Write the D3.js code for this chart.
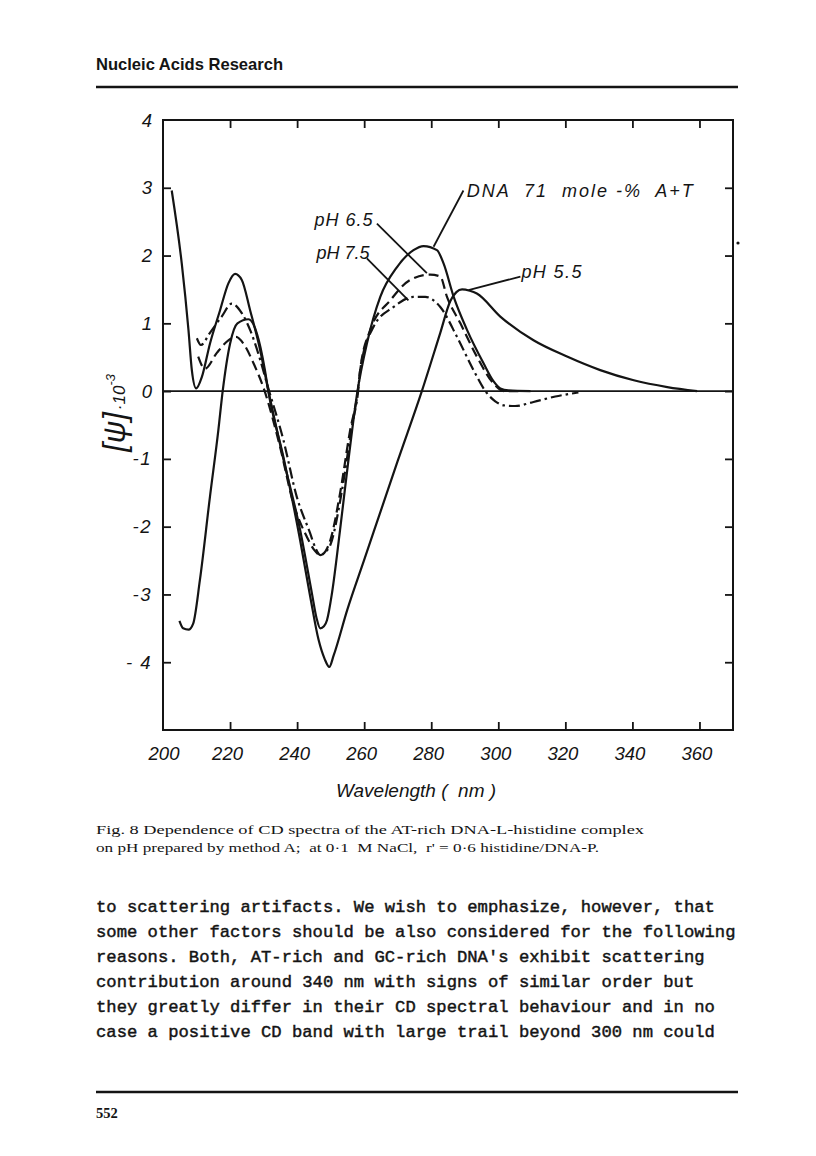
<!DOCTYPE html>
<html><head><meta charset="utf-8">
<script src="https://cdn.jsdelivr.net/npm/d3@7/dist/d3.min.js"></script>
<style>
html,body{margin:0;padding:0;background:#fff;}
svg{display:block;}
</style></head>
<body><svg id="c" width="816" height="1156"></svg>
<script>
// ---------- data ----------
const xTickValues = [200,220,240,260,280,300,320,340,360];
const yTickValues = [4,3,2,1,0,-1,-2,-3,-4];
const yTickLabels = ["4","3","2","1","0","-1","-2","-3","- 4"];

// DNA 71 mole-% A+T (native, solid)
const nativeNm  = [202.6,205.6,207.6,208.6,209.9,211.6,214.0,217.0,219.5,221.5,223.5,226.0,229.0,231.0,235.9,240.9,244.4,245.8,246.9,248.0,248.9,250.4,252.8,255.3,258.0,260.8,264.8,269.8,274.7,277.7,281.7,283.7,286.7,290.7,295.6,298.5,300.6,303.0,309.6];
const nativeVal = [2.96,1.88,0.90,0.31,0.04,0.21,0.70,1.19,1.59,1.73,1.64,1.19,0.60,0.11,-1.00,-2.05,-2.98,-3.35,-3.50,-3.47,-3.38,-2.98,-2.05,-1.02,0.00,0.70,1.39,1.83,2.08,2.14,2.08,1.88,1.39,0.90,0.41,0.15,0.04,0.01,0.00];
// pH 5.5 (solid)
const ph55Nm  = [204.9,206.0,207.6,209.0,211.0,214.0,216.5,217.8,220.0,222.2,225.5,228.0,230.4,231.4,235.9,240.9,243.9,246.4,248.2,249.6,250.9,255.0,260.0,265.0,270.0,277.2,282.7,285.7,287.5,289.2,291.5,293.6,300.6,310.5,320.5,330.4,340.4,350.4,359.3];
const ph55Val = [-3.39,-3.50,-3.52,-3.43,-2.79,-1.56,-0.58,0.00,0.70,1.00,1.06,0.85,0.31,0.00,-0.97,-2.20,-3.03,-3.67,-3.95,-4.07,-3.90,-3.22,-2.49,-1.76,-1.03,0.00,0.86,1.33,1.46,1.50,1.48,1.44,1.10,0.75,0.51,0.31,0.16,0.06,0.00];
// pH 6.5 (dashed)
const ph65Nm  = [210.5,212.5,216.0,219.5,221.8,224.0,227.0,229.9,234.9,238.9,242.9,245.2,246.9,248.5,249.9,252.8,255.8,258.1,258.8,261.8,267.8,273.7,279.7,282.7,284.7,288.7,293.6,298.6,301.6,306.0];
const ph65Val = [0.51,0.33,0.56,0.75,0.80,0.70,0.41,0.06,-0.82,-1.66,-2.15,-2.35,-2.42,-2.36,-2.20,-1.51,-0.58,0.00,0.31,0.90,1.34,1.64,1.72,1.69,1.39,1.00,0.51,0.11,0.00,0.00];
// pH 7.5 (dash-dot)
const ph75Nm  = [210.1,211.3,214.0,217.5,220.5,223.5,226.0,229.0,231.0,235.9,239.9,243.9,245.5,246.9,248.3,249.9,253.4,256.4,258.2,258.8,262.8,268.7,274.7,278.2,282.7,287.7,292.6,296.6,299.1,301.6,305.0,310.5,317.0,323.9];
const ph75Val = [0.78,0.68,0.86,1.10,1.29,1.15,0.90,0.46,0.11,-0.72,-1.56,-2.10,-2.32,-2.42,-2.38,-2.27,-1.46,-0.50,0.00,0.31,0.95,1.24,1.39,1.39,1.24,0.80,0.31,-0.03,-0.15,-0.21,-0.22,-0.16,-0.08,-0.02];

const seriesNames = ["DNA 71 mole-% A+T","pH 5.5","pH 6.5","pH 7.5"];
// annotation labels: text, anchor (nm, value), leader from/to (nm, value)
const labelTexts  = ["DNA  71  mole -%  A+T","pH 6.5","pH 7.5","pH 5.5"];
const labelNm     = [290.6,245.2,245.8,306.9];
const labelVal    = [2.87,2.44,1.95,1.67];
const leaderFrom  = [[289.6,2.96],[263.8,2.47],[260.8,1.96],[306.6,1.69]];
const leaderTo    = [[280.7,2.13],[278.7,1.74],[273.2,1.34],[291.1,1.49]];

const bodyLines = [
 "to scattering artifacts. We wish to emphasize, however, that",
 "some other factors should be also considered for the following",
 "reasons. Both, AT-rich and GC-rich DNA's exhibit scattering",
 "contribution around 340 nm with signs of similar order but",
 "they greatly differ in their CD spectral behaviour and in no",
 "case a positive CD band with large trail beyond 300 nm could"
];

// ---------- drawing ----------
const svg = d3.select("#c");
svg.append("rect").attr("width",816).attr("height",1156).attr("fill","#fff");
const ink = "#141414";
const L = 163, R = 733, T = 120, B = 730;
const x = d3.scaleLinear().domain([200,370]).range([L,R]);
const y = d3.scaleLinear().domain([-5,4]).range([B,T]);

// header
svg.append("text").attr("x",96).attr("y",70).attr("font-family","Liberation Sans, Arial, sans-serif")
  .attr("font-weight","bold").attr("font-size",17).attr("fill",ink)
  .attr("textLength",187).attr("lengthAdjust","spacingAndGlyphs").text("Nucleic Acids Research");
svg.append("line").attr("x1",96).attr("x2",738).attr("y1",87).attr("y2",87).attr("stroke",ink).attr("stroke-width",2.5);

const axFont = "Liberation Sans, Arial, sans-serif";
// axes (d3 axes with inward ticks)
const tk = 8;
const gB = svg.append("g").attr("transform",`translate(0,${B})`)
  .call(d3.axisBottom(x).tickValues(xTickValues.slice(1)).tickSize(-tk).tickFormat(""));
const gT = svg.append("g").attr("transform",`translate(0,${T})`)
  .call(d3.axisTop(x).tickValues(xTickValues.slice(1)).tickSize(-tk).tickFormat(""));
const gL = svg.append("g").attr("transform",`translate(${L},0)`)
  .call(d3.axisLeft(y).tickValues(yTickValues.slice(1)).tickSize(-tk).tickFormat(""));
const gR = svg.append("g").attr("transform",`translate(${R},0)`)
  .call(d3.axisRight(y).tickValues(yTickValues.slice(1)).tickSize(-tk).tickFormat(""));
[gB,gT,gL,gR].forEach(g=>{
  g.select(".domain").remove();
  g.selectAll(".tick line").attr("stroke",ink).attr("stroke-width",1.8);
});
// frame
svg.append("rect").attr("x",L).attr("y",T).attr("width",R-L).attr("height",B-T)
  .attr("fill","none").attr("stroke",ink).attr("stroke-width",2);
// zero line
svg.append("line").attr("x1",L).attr("x2",R).attr("y1",y(0)).attr("y2",y(0))
  .attr("stroke",ink).attr("stroke-width",1.8);

// tick labels
svg.append("g").selectAll("text").data(xTickValues).join("text")
  .attr("x",d=>x(d)+(d===200?1:-2.5)).attr("y",760).attr("text-anchor","middle")
  .attr("font-family",axFont).attr("font-style","italic").attr("font-size",18.5).attr("fill",ink)
  .text(d=>d);
svg.append("g").selectAll("text").data(yTickValues).join("text")
  .attr("x",152).attr("y",d=>y(d)+6.5).attr("text-anchor","end")
  .attr("font-family",axFont).attr("font-style","italic").attr("font-size",18.5).attr("fill",ink)
  .attr("letter-spacing",(d,i)=>d<0?1.5:0)
  .text((d,i)=>yTickLabels[i]);

// axis titles
svg.append("text").attr("x",416).attr("y",797).attr("text-anchor","middle")
  .attr("font-family",axFont).attr("font-style","italic").attr("font-size",19).attr("fill",ink)
  .attr("xml:space","preserve").text("Wavelength (  nm )");
const yt = svg.append("text").attr("transform","translate(125,413) rotate(-90)")
  .attr("text-anchor","middle").attr("font-family",axFont).attr("font-style","italic").attr("fill",ink);
yt.append("tspan").attr("font-size",31).text("[ψ]");
yt.append("tspan").attr("font-size",17).attr("dx",2).text("·10");
yt.append("tspan").attr("font-size",13).attr("dy",-10).text("-3");

// curves
const lineGen = d3.line().x(d=>x(d[0])).y(d=>y(d[1])).curve(d3.curveMonotoneX);
const zip = (a,b)=>a.map((v,i)=>[v,b[i]]);
const series = [
  {name:seriesNames[0], pts:zip(nativeNm,nativeVal), dash:null},
  {name:seriesNames[1], pts:zip(ph55Nm,ph55Val), dash:null},
  {name:seriesNames[2], pts:zip(ph65Nm,ph65Val), dash:"10,5"},
  {name:seriesNames[3], pts:zip(ph75Nm,ph75Val), dash:"11,4,2.5,4"}
];
svg.append("g").selectAll("path").data(series).join("path")
  .attr("d",d=>lineGen(d.pts)).attr("fill","none").attr("stroke",ink)
  .attr("stroke-width",2.2).attr("stroke-linejoin","round").attr("stroke-linecap","butt")
  .attr("stroke-dasharray",d=>d.dash);

// annotations
svg.append("g").selectAll("line").data(leaderFrom).join("line")
  .attr("x1",d=>x(d[0])).attr("y1",d=>y(d[1]))
  .attr("x2",(d,i)=>x(leaderTo[i][0])).attr("y2",(d,i)=>y(leaderTo[i][1]))
  .attr("stroke",ink).attr("stroke-width",1.8);
const labW = [226,58,53,60];
svg.append("g").selectAll("text").data(labelTexts).join("text")
  .attr("x",(d,i)=>x(labelNm[i])).attr("y",(d,i)=>y(labelVal[i]))
  .attr("font-family",axFont).attr("font-style","italic").attr("font-size",18).attr("fill",ink)
  .attr("xml:space","preserve")
  .attr("textLength",(d,i)=>labW[i]).attr("lengthAdjust","spacing")
  .text(d=>d);

// stray dot at right margin
svg.append("circle").attr("cx",738).attr("cy",243).attr("r",1.6).attr("fill",ink);

// caption
const cap = ["Fig. 8 Dependence of CD spectra of the AT-rich DNA-L-histidine complex",
             "on pH prepared by method A;  at 0·1  M NaCl,  r' = 0·6 histidine/DNA-P."];
svg.append("g").selectAll("text").data(cap).join("text")
  .attr("x",96).attr("y",(d,i)=>834+i*17.5)
  .attr("font-family","Liberation Serif, Times New Roman, serif").attr("font-size",13.5).attr("fill",ink)
  .attr("xml:space","preserve")
  .attr("textLength",(d,i)=>i===0?548:503).attr("lengthAdjust","spacingAndGlyphs")
  .text(d=>d);

// body text
svg.append("g").selectAll("text").data(bodyLines).join("text")
  .attr("x",96).attr("y",(d,i)=>912+i*25)
  .attr("font-family","Liberation Mono, Courier New, monospace").attr("font-size",17.2)
  .attr("fill",ink).attr("stroke",ink).attr("stroke-width",0.45).attr("xml:space","preserve")
  .text(d=>d);

// footer
svg.append("line").attr("x1",96).attr("x2",738).attr("y1",1092).attr("y2",1092).attr("stroke",ink).attr("stroke-width",2.5);
svg.append("text").attr("x",96).attr("y",1118).attr("font-family","Liberation Serif, Times New Roman, serif")
  .attr("font-weight","bold").attr("font-size",14.5).attr("fill",ink).text("552");
</script>
</body></html>
